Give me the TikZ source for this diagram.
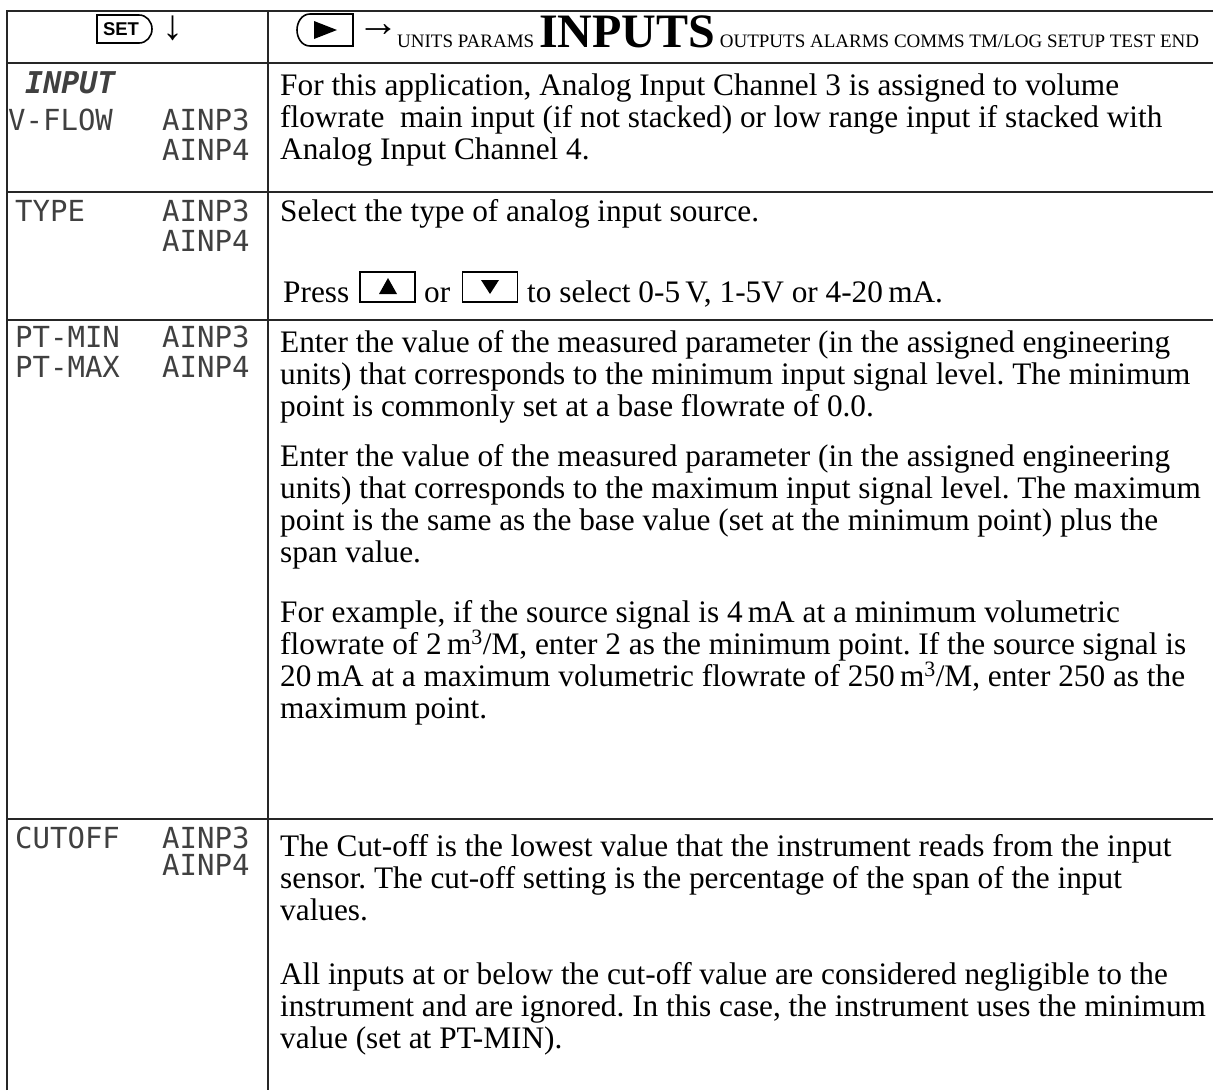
\documentclass[tikz,border=0pt]{standalone}
\usepackage{fontspec}
\usepackage{graphicx}
\setmainfont{Liberation Serif}
\newfontfamily\lcdfont{DejaVu Sans Mono}
\newfontfamily\btnfont{Liberation Sans}
\frenchspacing
\tikzset{
  body/.style={anchor=base west, inner sep=0pt, font=\fontsize{31.3}{32}\selectfont},
  lcd/.style={anchor=base west, inner sep=0pt, text=black!75, font=\lcdfont\fontsize{29}{29}\selectfont},
  rule/.style={line width=1.6pt, draw=black!85},
  keybox/.style={draw, line width=1.5pt, minimum width=55pt, minimum height=30pt, inner sep=0pt},
  arrowglyph/.style={inner sep=0pt, font=\fontsize{42}{42}\selectfont},
}
\newcommand\tl[3]{\node[body] (#1) at (280,#2) {#3};}
\begin{document}
\begin{tikzpicture}[x=1pt,y=-1pt]
\useasboundingbox (0,0) rectangle (1213,1090);
% grid
\draw[rule] (7,1090) -- (7,11) -- (1213,11);
\draw[rule] (268,11) -- (268,1090);
\foreach \yy in {63,192,320,819} \draw[rule] (7,\yy) -- (1213,\yy);
% SET button
\draw[line width=1.6pt] (97,15) -- (139,15) to[out=0,in=90] (152,29) to[out=-90,in=0] (139,43) -- (97,43) -- cycle;
\node[inner sep=0pt, font=\btnfont\bfseries\fontsize{18.5}{18.5}\selectfont] (set) at (121,29.5) {SET};
\node[arrowglyph] (down) at (173,28.5) {↓};
% play button
\draw[line width=1.6pt] (353,14) -- (310,14) to[out=180,in=90] (297,30) to[out=-90,in=180] (310,46) -- (353,46) -- cycle;
\fill (314,21) -- (314,39) -- (337,30) -- cycle;
\node[arrowglyph] (right) at (378,31) {→};
\node[anchor=base west, inner sep=0pt] (menu) at (397,47) {\fontsize{19}{19}\selectfont UNITS PARAMS {\fontsize{48}{48}\selectfont\bfseries INPUTS} OUTPUTS ALARMS COMMS TM/LOG SETUP TEST END};
% left column
\node[lcd, font=\lcdfont\itshape\bfseries\fontsize{30}{30}\selectfont] (inp) at (25,93) {INPUT};
\node[lcd] (vflow) at (8,130) {V-FLOW};
\node[lcd] (a3a) at (162,130) {AINP3};
\node[lcd] (a4a) at (162,160) {AINP4};
\node[lcd] (type) at (15,221) {TYPE};
\node[lcd] (a3b) at (162,221) {AINP3};
\node[lcd] (a4b) at (162,251) {AINP4};
\node[lcd] (ptmin) at (15,347) {PT-MIN};
\node[lcd] (a3c) at (162,347) {AINP3};
\node[lcd] (ptmax) at (15,377) {PT-MAX};
\node[lcd] (a4c) at (162,377) {AINP4};
\node[lcd] (cut) at (15,848) {CUTOFF};
\node[lcd] (a3d) at (162,848) {AINP3};
\node[lcd] (a4d) at (162,875) {AINP4};
% right column
\tl{p1a}{95}{For this application, Analog Input Channel 3 is assigned to volume}
\tl{p1b}{127}{flowrate\ \ main input (if not stacked) or low range input if stacked with}
\tl{p1c}{159}{Analog Input Channel 4.}
\tl{p2a}{221}{Select the type of analog input source.}
\node[body] (press) at (283,302) {Press};
\node[keybox] (up) at (387.5,287) {};
\fill (379,294) -- (397,294) -- (388,278) -- cycle;
\node[body] (or) at (424,302) {or};
\node[keybox] (dn) at (490,287) {};
\fill (481,280) -- (499,280) -- (490,294) -- cycle;
\node[body] (sel) at (527,302) {to select 0-5\,V, 1-5V or 4-20\,mA.};
\tl{p3a}{352}{Enter the value of the measured parameter (in the assigned engineering}
\tl{p3b}{384}{units) that corresponds to the minimum input signal level. The minimum}
\tl{p3c}{416}{point is commonly set at a base flowrate of 0.0.}
\tl{p3d}{466}{Enter the value of the measured parameter (in the assigned engineering}
\tl{p3e}{498}{units) that corresponds to the maximum input signal level. The maximum}
\tl{p3f}{530}{point is the same as the base value (set at the minimum point) plus the}
\tl{p3g}{562}{span value.}
\tl{p3h}{622}{For example, if the source signal is 4\,mA at a minimum volumetric}
\tl{p3i}{654}{flowrate of 2\,m\textsuperscript{3}/M, enter 2 as the minimum point. If the source signal is}
\tl{p3j}{686}{20\,mA at a maximum volumetric flowrate of 250\,m\textsuperscript{3}/M, enter 250 as the}
\tl{p3k}{718}{maximum point.}
\tl{p4a}{856}{The Cut-off is the lowest value that the instrument reads from the input}
\tl{p4b}{888}{sensor. The cut-off setting is the percentage of the span of the input}
\tl{p4c}{920}{values.}
\tl{p4d}{984}{All inputs at or below the cut-off value are considered negligible to the}
\tl{p4e}{1016}{instrument and are ignored. In this case, the instrument uses the minimum}
\tl{p4f}{1048}{value (set at PT-MIN).}
\end{tikzpicture}
\end{document}
